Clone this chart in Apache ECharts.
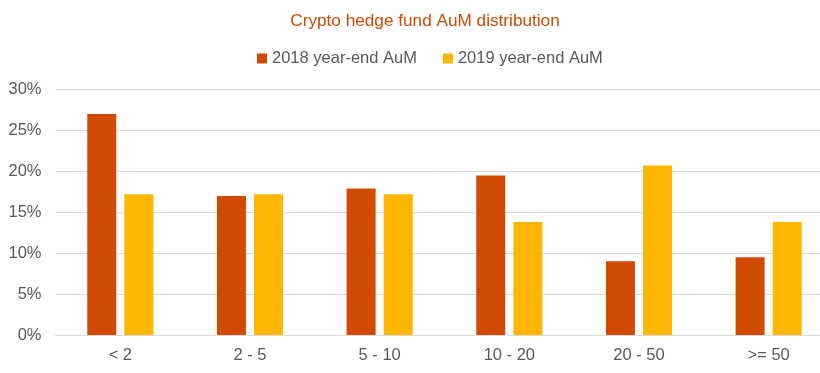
<!DOCTYPE html>
<html><head><meta charset="utf-8">
<script src="https://cdn.jsdelivr.net/npm/echarts@6/dist/echarts.min.js"></script>
<style>html,body{margin:0;padding:0;background:#fff}#c{width:820px;height:373px}</style>
</head><body><div id="c"></div>
<script>
const categories = ['< 2', '2 - 5', '5 - 10', '10 - 20', '20 - 50', '>= 50'];
const aum2018 = [27.0, 17.0, 17.9, 19.5, 9.0, 9.5];
const aum2019 = [17.2, 17.2, 17.2, 13.8, 20.7, 13.8];
const seriesNames = ['2018 year-end AuM', '2019 year-end AuM'];
const yTicks = [0, 5, 10, 15, 20, 25, 30];

const chart = echarts.init(document.getElementById('c'));
chart.setOption({
  animation: false,
  title: {
    text: 'Crypto hedge fund AuM distribution',
    left: 420, textAlign: 'center', top: 8,
    textStyle: { color: '#D04A02', fontSize: 17.2, fontWeight: 'normal', fontFamily: 'Liberation Sans, Arial' }
  },
  legend: {
    data: seriesNames, top: 45, left: 252, itemWidth: 10, itemHeight: 10, itemGap: 26,
    icon: 'rect',
    textStyle: { color: '#595959', fontSize: 16.5, fontFamily: 'Liberation Sans, Arial' }
  },
  grid: { left: 55.5, width: 778, top: 89.5, bottom: 38, containLabel: false, outerBoundsMode: 'none' },
  xAxis: {
    type: 'category', data: categories,
    axisLine: { lineStyle: { color: '#d9d9d9' } },
    axisTick: { show: false },
    axisLabel: { color: '#595959', fontSize: 16.5, margin: 12, fontFamily: 'Liberation Sans, Arial' }
  },
  yAxis: {
    type: 'value', min: yTicks[0], max: yTicks[yTicks.length - 1], interval: 5,
    axisLine: { show: false }, axisTick: { show: false },
    splitLine: { lineStyle: { color: '#d9d9d9', width: 1 } },
    axisLabel: { color: '#595959', fontSize: 16.5, margin: 14, formatter: v => v + '%', fontFamily: 'Liberation Sans, Arial' }
  },
  series: [
    { name: seriesNames[0], type: 'bar', data: aum2018, barWidth: 29, barGap: '28%', itemStyle: { color: '#D04A02' } },
    { name: seriesNames[1], type: 'bar', data: aum2019, barWidth: 29, barGap: '28%', itemStyle: { color: '#FFB600' } }
  ]
});
</script></body></html>
